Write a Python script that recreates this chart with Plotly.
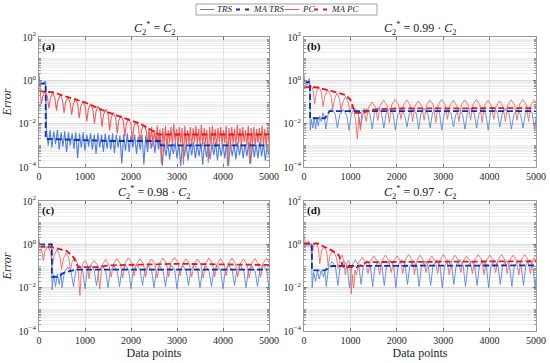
import plotly.graph_objects as go

# ---------------- DATA (errors stored as log10 values) ----------------
# Panel (a): C2* = C2
trs_a_x = [0, 25, 50, 80, 110, 135, 145]
trs_a_y = [-0.15, -0.18, -0.12, -0.15, -0.1, -0.05, -0.1]
trs_a_noise_x = list(range(160, 5001, 40))
trs_a_noise_y = [
    -2.25, -3.0, -2.3, -3.1, -2.35, -2.95, -2.3, -3.2, -2.4, -3.05,
    -2.35, -3.3, -2.4, -3.0, -2.45, -3.15, -2.4, -3.6, -2.45, -3.1,
    -2.4, -3.25, -2.5, -3.05, -2.45, -3.2, -2.5, -3.4, -2.45, -3.1,
    -2.5, -3.3, -2.45, -3.15,
    -2.5, -3.2, -2.45, -3.35, -2.5, -3.1, -2.55, -3.85, -2.5, -3.25,
    -2.45, -3.3, -2.55, -3.1, -2.5, -3.4, -2.6, -3.2, -2.5, -3.9,
    -2.55, -3.3, -2.5, -3.15, -2.6, -3.35, -2.55, -3.2, -2.6, -3.95,
    -2.9, -3.5, -2.85, -3.65, -2.95, -3.4, -2.85, -3.6, -2.9, -3.95,
    -2.85, -3.5, -2.95, -3.7, -2.9, -3.45, -2.85, -3.6, -2.95, -3.5,
    -2.9, -3.9, -2.85, -3.55, -2.95, -3.65, -2.9, -3.45, -2.85, -3.7,
    -2.9, -3.5, -2.95, -3.6, -2.85, -3.95, -2.9, -3.5, -2.95, -3.65,
    -2.85, -3.45, -2.9, -3.6, -2.95, -3.5, -2.85, -3.85, -2.9, -3.55,
    -2.95, -3.6, -2.85, -3.5, -2.9, -3.7, -2.95, -3.45]
pc_a_x = [0, 15, 30,
          50, 83, 132, 182, 215, 248, 297, 347, 380, 413, 462, 512,
          545, 578, 627, 677, 710, 743, 792, 842, 875, 908, 957, 1007,
          1040, 1073, 1122, 1172, 1205, 1238, 1287, 1337, 1370, 1403, 1452, 1502,
          1535, 1568, 1617, 1667, 1700, 1733, 1782, 1832, 1865, 1898, 1947, 1997,
          2030, 2063, 2112, 2162, 2195, 2228, 2277, 2327, 2360]
pc_a_y = [0.3, -0.2, -0.55,
          -1.1, -0.75, -0.5, -0.75, -1.3, -0.83, -0.58, -0.83, -1.4, -0.92, -0.67, -0.92,
          -1.5, -1.01, -0.76, -1.01, -1.6, -1.11, -0.86, -1.11, -1.75, -1.21, -0.96, -1.21,
          -1.9, -1.33, -1.08, -1.33, -2.0, -1.45, -1.2, -1.45, -2.15, -1.58, -1.33, -1.58,
          -2.3, -1.73, -1.48, -1.73, -2.45, -1.87, -1.62, -1.87, -2.6, -2.01, -1.76, -2.01,
          -2.75, -2.15, -1.9, -2.15, -2.85, -2.3, -2.05, -2.3, -3.0]
pc_a_noise_x = list(range(2390, 5001, 30))
pc_a_noise_y = [
    -2.2, -2.9, -2.15, -3.05, -2.3, -2.85, -2.1, -3.0, -2.25, -3.85,
    -2.2, -2.95, -2.1, -3.1, -2.3, -2.9, -2.15, -3.0, -2.0, -2.85,
    -2.25, -3.05, -2.15, -2.9, -2.2, -3.9, -2.1, -3.0, -2.3, -2.95,
    -2.15, -3.1, -2.2, -2.85, -2.1, -3.0, -2.25, -2.95, -2.05, -3.05,
    -2.2, -2.9, -2.3, -3.8, -2.15, -3.0, -2.1, -2.95, -2.25, -3.1,
    -2.2, -2.85, -2.15, -3.0, -2.3, -2.9, -2.1, -3.95, -2.2, -3.05,
    -2.15, -2.95, -2.25, -3.0, -2.05, -2.9, -2.2, -3.1, -2.15, -2.85,
    -2.3, -3.0, -2.1, -3.85, -2.2, -2.95, -2.15, -3.05, -2.25, -2.9,
    -2.2, -3.0, -2.1, -2.95, -2.25, -3.1, -2.15, -2.9]
ma_trs_a_x = [0, 145, 145, 700, 1500, 2650, 2650, 5000]
ma_trs_a_y = [-0.15, -0.15, -2.7, -2.75, -2.8, -2.8, -3.0, -3.0]
ma_pc_a_x = [0, 300, 700, 1000, 1460, 1800, 2200, 2450, 2600, 5000]
ma_pc_a_y = [-0.5, -0.55, -0.82, -1.02, -1.45, -1.7, -2.0, -2.3, -2.5, -2.5]

# Panel (b): C2* = 0.99 C2
trs_b_x = [0, 30, 60, 90, 115, 125, 135, 160, 190, 220, 250, 280, 310, 340, 370, 410, 440,
           470, 520, 595, 670, 720, 770, 845, 920, 970, 1020, 1095, 1170,
           1220, 1270, 1345, 1420, 1470, 1520, 1595, 1670, 1720, 1770, 1845, 1920,
           1970, 2020, 2095, 2170, 2220, 2270, 2345, 2420, 2470, 2520, 2595, 2670,
           2720, 2770, 2845, 2920, 2970, 3020, 3095, 3170, 3220, 3270, 3345, 3420,
           3470, 3520, 3595, 3670, 3720, 3770, 3845, 3920, 3970, 4020, 4095, 4170,
           4220, 4270, 4345, 4420, 4470, 4520, 4595, 4670, 4720, 4770, 4845, 4920,
           4970, 5000]
trs_b_y = [-0.2, -0.1, -0.2, -0.05, 0.08, -0.5, -2.3, -1.8, -2.2, -1.7, -2.25, -1.75, -2.1, -1.65, -1.9, -1.5, -1.7,
           -2.25, -1.55, -1.3, -1.55, -2.2, -1.6, -1.35, -1.6, -2.3, -1.53, -1.28, -1.53,
           -2.15, -1.55, -1.3, -1.55, -2.25, -1.5, -1.25, -1.5, -2.2, -1.55, -1.3, -1.55,
           -2.3, -1.6, -1.35, -1.6, -2.15, -1.53, -1.28, -1.53, -2.25, -1.55, -1.3, -1.55,
           -2.2, -1.5, -1.25, -1.5, -2.3, -1.55, -1.3, -1.55, -2.15, -1.6, -1.35, -1.6,
           -2.25, -1.53, -1.28, -1.53, -2.2, -1.55, -1.3, -1.55, -2.3, -1.5, -1.25, -1.5,
           -2.15, -1.55, -1.3, -1.55, -2.25, -1.6, -1.35, -1.6, -2.2, -1.53, -1.28, -1.53,
           -2.3, -1.7]
pc_b_x = [0, 20, 45, 120, 190, 230, 266, 320, 374, 410, 452, 515, 578, 620, 656, 710, 764,
          800, 838, 895, 952, 990, 1030, 1070, 1110, 1150, 1180, 1215, 1250, 1290,
          1340, 1390, 1465, 1540, 1590, 1640, 1715, 1790, 1840, 1890, 1965, 2040,
          2090, 2140, 2215, 2290, 2340, 2390, 2465, 2540, 2590, 2640, 2715, 2790,
          2840, 2890, 2965, 3040, 3090, 3140, 3215, 3290, 3340, 3390, 3465, 3540,
          3590, 3640, 3715, 3790, 3840, 3890, 3965, 4040, 4090, 4140, 4215, 4290,
          4340, 4390, 4465, 4540, 4590, 4640, 4715, 4790, 4840, 4890, 4965, 5000]
pc_b_y = [0.3, -0.1, -0.2, -0.15, -0.4, -1.1, -0.55, -0.3, -0.55, -1.2, -0.7, -0.45, -0.7,
          -1.3, -0.85, -0.6, -0.85, -1.4, -1.0, -0.75, -1.0,
          -1.5, -1.2, -1.35, -1.8, -2.7, -1.7, -2.3, -1.4, -1.3,
          -1.9, -1.25, -1.0, -1.25, -1.85, -1.17, -0.92, -1.17, -1.95, -1.13, -0.88, -1.13,
          -1.8, -1.15, -0.9, -1.15, -1.9, -1.2, -0.95, -1.2, -1.85, -1.15, -0.9, -1.15,
          -1.95, -1.13, -0.88, -1.13, -1.8, -1.17, -0.92, -1.17, -1.9, -1.15, -0.9, -1.15,
          -1.85, -1.13, -0.88, -1.13, -1.95, -1.17, -0.92, -1.17, -1.8, -1.2, -0.95, -1.2,
          -1.9, -1.15, -0.9, -1.15, -1.85, -1.13, -0.88, -1.13, -1.9, -1.15, -0.9, -1.0]
ma_trs_b_x = [0, 130, 130, 450, 550, 5000]
ma_trs_b_y = [-0.08, -0.08, -1.75, -1.75, -1.42, -1.42]
ma_pc_b_x = [0, 300, 600, 900, 1000, 1100, 1250, 1500, 2000, 5000]
ma_pc_b_y = [-0.3, -0.33, -0.5, -0.68, -0.9, -1.5, -1.5, -1.35, -1.3, -1.28]

# Panel (c): C2* = 0.98 C2
trs_c_x = [0, 40, 80, 120, 160, 200, 240, 265, 275, 285, 320, 360, 400, 440, 480,
           500, 550, 625, 700, 750, 800, 875, 950, 1000, 1050, 1125, 1200,
           1250, 1300, 1375, 1450, 1500, 1550, 1625, 1700, 1750, 1800, 1875, 1950,
           2000, 2050, 2125, 2200, 2250, 2300, 2375, 2450, 2500, 2550, 2625, 2700,
           2750, 2800, 2875, 2950, 3000, 3050, 3125, 3200, 3250, 3300, 3375, 3450,
           3500, 3550, 3625, 3700, 3750, 3800, 3875, 3950, 4000, 4050, 4125, 4200,
           4250, 4300, 4375, 4450, 4500, 4550, 4625, 4700, 4750, 4800, 4875, 4950, 5000]
trs_c_y = [-0.05, 0.0, -0.1, -0.05, -0.15, -0.1, 0.0, 0.05, -0.5, -2.1, -1.4, -1.95, -1.35, -1.85, -1.3,
           -2.0, -1.3, -1.05, -1.3, -1.95, -1.22, -0.97, -1.22, -2.05, -1.2, -0.95, -1.2,
           -1.9, -1.22, -0.97, -1.22, -2.0, -1.25, -1.0, -1.25, -1.95, -1.2, -0.95, -1.2,
           -2.05, -1.18, -0.93, -1.18, -1.9, -1.22, -0.97, -1.22, -2.0, -1.25, -1.0, -1.25,
           -1.95, -1.2, -0.95, -1.2, -2.05, -1.22, -0.97, -1.22, -1.9, -1.18, -0.93, -1.18,
           -2.0, -1.25, -1.0, -1.25, -1.95, -1.22, -0.97, -1.22, -2.05, -1.2, -0.95, -1.2,
           -1.9, -1.22, -0.97, -1.22, -2.0, -1.25, -1.0, -1.25, -1.95, -1.2, -0.95, -1.2, -2.05]
pc_c_x = [0, 20, 50, 95, 130, 190, 250, 290, 330, 390, 450, 490, 530, 590, 650, 680, 720, 780,
          840, 890, 920, 960, 1010, 1050, 1090, 1130, 1200, 1270,
          1320, 1370, 1445, 1520, 1570, 1620, 1695, 1770, 1820, 1870, 1945, 2020,
          2070, 2120, 2195, 2270, 2320, 2370, 2445, 2520, 2570, 2620, 2695, 2770,
          2820, 2870, 2945, 3020, 3070, 3120, 3195, 3270, 3320, 3370, 3445, 3520,
          3570, 3620, 3695, 3770, 3820, 3870, 3945, 4020, 4070, 4120, 4195, 4270,
          4320, 4370, 4445, 4520, 4570, 4620, 4695, 4770, 4820, 4870, 4945, 5000]
pc_c_y = [0.26, -0.05, -0.2, -0.75, -0.3, -0.1, -0.35, -1.0, -0.5, -0.25, -0.5, -1.15, -0.65, -0.4,
          -0.65, -1.2, -0.8, -0.6, -0.9, -2.35, -1.2, -0.85, -0.75, -0.95, -1.6, -0.95, -0.75, -0.95,
          -2.05, -0.95, -0.7, -0.95, -1.5, -0.9, -0.66, -0.9, -1.55, -0.88, -0.63, -0.88,
          -1.45, -0.9, -0.66, -0.9, -1.5, -0.92, -0.68, -0.92, -1.55, -0.88, -0.63, -0.88,
          -1.5, -0.85, -0.6, -0.85, -1.45, -0.9, -0.66, -0.9, -1.5, -0.92, -0.68, -0.92,
          -1.55, -0.88, -0.63, -0.88, -1.5, -0.9, -0.66, -0.9, -1.45, -0.88, -0.63, -0.88,
          -1.5, -0.92, -0.68, -0.92, -1.55, -0.9, -0.66, -0.9, -1.5, -0.88, -0.63, -0.85]
ma_trs_c_x = [0, 280, 280, 400, 550, 800, 5000]
ma_trs_c_y = [0.0, 0.0, -1.5, -1.5, -1.3, -1.17, -1.17]
ma_pc_c_x = [0, 250, 600, 750, 850, 1300, 1500, 3000, 5000]
ma_pc_c_y = [-0.12, -0.12, -0.3, -0.6, -1.05, -1.05, -0.97, -0.9, -0.95]

# Panel (d): C2* = 0.97 C2
trs_d_x = [0, 40, 80, 120, 155, 165, 175, 210, 250, 290, 330, 370, 420, 450,
           480, 530, 605, 680, 730, 780, 855, 930, 980, 1030, 1105, 1180,
           1230, 1280, 1355, 1430, 1480, 1530, 1605, 1680, 1730, 1780, 1855, 1930,
           1980, 2030, 2105, 2180, 2230, 2280, 2355, 2430, 2480, 2530, 2605, 2680,
           2730, 2780, 2855, 2930, 2980, 3030, 3105, 3180, 3230, 3280, 3355, 3430,
           3480, 3530, 3605, 3680, 3730, 3780, 3855, 3930, 3980, 4030, 4105, 4180,
           4230, 4280, 4355, 4430, 4480, 4530, 4605, 4680, 4730, 4780, 4855, 4930, 4980, 5000]
trs_d_y = [-0.1, 0.0, -0.1, 0.0, 0.05, -0.4, -2.0, -1.3, -1.7, -1.25, -1.6, -1.2, -1.5, -1.25,
           -1.95, -1.05, -0.8, -1.05, -1.9, -1.0, -0.75, -1.0, -2.0, -0.98, -0.73, -0.98,
           -1.85, -1.0, -0.75, -1.0, -1.95, -1.02, -0.77, -1.02, -1.9, -0.98, -0.73, -0.98,
           -2.0, -0.96, -0.71, -0.96, -1.85, -1.0, -0.75, -1.0, -1.95, -1.02, -0.77, -1.02,
           -1.9, -0.98, -0.73, -0.98, -2.0, -1.0, -0.75, -1.0, -1.85, -0.96, -0.71, -0.96,
           -1.95, -1.02, -0.77, -1.02, -1.9, -1.0, -0.75, -1.0, -2.0, -0.98, -0.73, -0.98,
           -1.85, -1.0, -0.75, -1.0, -1.95, -1.02, -0.77, -1.02, -1.9, -0.98, -0.73, -0.98, -2.0, -1.5]
pc_d_x = [0, 20, 50, 100, 150, 165, 200, 260, 310, 340, 380, 430, 490, 520, 560, 620, 690, 735,
          770, 820, 860, 890, 930, 970, 1000, 1020, 1040, 1070, 1100,
          1130, 1180, 1255, 1330, 1380, 1430, 1505, 1580, 1630, 1680, 1755, 1830,
          1880, 1930, 2005, 2080, 2130, 2180, 2255, 2330, 2380, 2430, 2505, 2580,
          2630, 2680, 2755, 2830, 2880, 2930, 3005, 3080, 3130, 3180, 3255, 3330,
          3380, 3430, 3505, 3580, 3630, 3680, 3755, 3830, 3880, 3930, 4005, 4080,
          4130, 4180, 4255, 4330, 4380, 4430, 4505, 4580, 4630, 4680, 4755, 4830,
          4880, 4930, 5000]
pc_d_y = [0.42, 0.1, 0.05, 0.15, -0.2, -0.7, -0.1, 0.1, -0.2, -0.9, -0.3, -0.1, -0.35, -1.0,
          -0.5, -0.3, -0.55, -1.1, -0.7, -0.5, -0.8, -1.4, -0.8, -0.75, -1.3, -2.28, -1.4, -2.0, -1.2,
          -1.4, -0.85, -0.6, -0.85, -1.35, -0.78, -0.53, -0.78, -1.4, -0.75, -0.5, -0.75,
          -1.3, -0.78, -0.53, -0.78, -1.35, -0.72, -0.47, -0.72, -1.4, -0.75, -0.5, -0.75,
          -1.3, -0.78, -0.53, -0.78, -1.35, -0.72, -0.47, -0.72, -1.4, -0.75, -0.5, -0.75,
          -1.3, -0.78, -0.53, -0.78, -1.35, -0.72, -0.47, -0.72, -1.4, -0.75, -0.5, -0.75,
          -1.3, -0.72, -0.47, -0.72, -1.35, -0.75, -0.5, -0.75, -1.4, -0.72, -0.47, -0.72,
          -1.35, -0.75, -0.5]
ma_trs_d_x = [0, 170, 170, 450, 600, 5000]
ma_trs_d_y = [0.03, 0.03, -1.2, -1.2, -1.0, -0.97]
ma_pc_d_x = [0, 300, 600, 750, 850, 1150, 1350, 5000]
ma_pc_d_y = [0.03, 0.03, -0.28, -0.5, -1.05, -1.05, -0.82, -0.78]

panel_titles = ["<i>C</i><sub>2</sub><sup>*</sup> = <i>C</i><sub>2</sub>",
                "<i>C</i><sub>2</sub><sup>*</sup> = 0.99 · <i>C</i><sub>2</sub>",
                "<i>C</i><sub>2</sub><sup>*</sup> = 0.98 · <i>C</i><sub>2</sub>",
                "<i>C</i><sub>2</sub><sup>*</sup> = 0.97 · <i>C</i><sub>2</sub>"]
panel_labels = ["(a)", "(b)", "(c)", "(d)"]
series_names = ["TRS", "MA TRS", "PC", "MA PC"]
y_tick_vals = [1e-4, 1e-2, 1e0, 1e2]
y_tick_text = ["10<sup>−4</sup>", "10<sup>−2</sup>", "10<sup>0</sup>", "10<sup>2</sup>"]
x_tick_vals = [0, 1000, 2000, 3000, 4000, 5000]

# ---------------- FIGURE ----------------
def pw(v):
    return [10 ** e for e in v]

panels = [
    (trs_a_x + trs_a_noise_x, trs_a_y + trs_a_noise_y, ma_trs_a_x, ma_trs_a_y,
     pc_a_x + pc_a_noise_x, pc_a_y + pc_a_noise_y, ma_pc_a_x, ma_pc_a_y),
    (trs_b_x, trs_b_y, ma_trs_b_x, ma_trs_b_y, pc_b_x, pc_b_y, ma_pc_b_x, ma_pc_b_y),
    (trs_c_x, trs_c_y, ma_trs_c_x, ma_trs_c_y, pc_c_x, pc_c_y, ma_pc_c_x, ma_pc_c_y),
    (trs_d_x, trs_d_y, ma_trs_d_x, ma_trs_d_y, pc_d_x, pc_d_y, ma_pc_d_x, ma_pc_d_y),
]

C_TRS = "#4f7fdc"
C_MATRS = "#0a30b0"
C_PC = "#f05e5e"
C_MAPC = "#e3161b"
FONT = "Liberation Serif"
DASH = "6px,3px"

# series styles: (colour, width, dash)
styles = [(C_TRS, 0.85, "solid"), (C_MATRS, 1.8, DASH), (C_PC, 0.85, "solid"), (C_MAPC, 1.8, DASH)]

W, H = 550, 363
xdom = [[39 / W, 269 / W], [304 / W, 536 / W]]
ydom = [[1 - 167 / H, 1 - 37 / H], [1 - 331 / H, 1 - 201 / H]]

fig = go.Figure()
for i, (tx, ty, mtx, mty, px, py, mpx, mpy) in enumerate(panels):
    xa = "x" if i == 0 else f"x{i+1}"
    ya = "y" if i == 0 else f"y{i+1}"
    thin = 1.1 if i == 0 else styles[0][1]
    for k, (sx_, sy_) in [(0, (tx, ty)), (2, (px, py)), (1, (mtx, mty)), (3, (mpx, mpy))]:
        col, wid, dsh = styles[k]
        if k in (0, 2):
            wid = thin
        fig.add_trace(go.Scatter(x=sx_, y=pw(sy_), xaxis=xa, yaxis=ya, mode="lines",
                                 line=dict(color=col, width=wid, dash=dsh),
                                 name=series_names[k], showlegend=False, legendgroup=series_names[k]))

minor_vals = [m * 10 ** e for e in range(-4, 2) for m in range(2, 10)] + [1e-3, 1e-1, 1e1]
layout = dict(
    width=W, height=H, margin=dict(l=0, r=0, t=0, b=0, autoexpand=False),
    paper_bgcolor="white", plot_bgcolor="white",
    font=dict(family=FONT, size=10, color="#262626"),
    showlegend=False,
)
for i in range(4):
    r, c = divmod(i, 2)
    sx = "" if i == 0 else str(i + 1)
    xa_def = dict(
        domain=xdom[c], anchor="y" + sx, range=[0, 5000],
        tickvals=x_tick_vals, ticks="inside", ticklen=3, tickcolor="#777",
        showline=True, mirror="ticks", linecolor="#9a9a9a", linewidth=1,
        showgrid=True, gridcolor="#e1e1e1", gridwidth=1, zeroline=False,
        tickfont=dict(family=FONT, size=10, color="#262626"),
    )
    if r == 1:
        xa_def["title"] = dict(text="Data points", font=dict(family=FONT, size=12), standoff=2)
    ya_def = dict(
        domain=ydom[r], anchor="x" + sx, type="log", range=[-4, 2],
        tickvals=y_tick_vals, ticktext=y_tick_text, ticks="inside", ticklen=3, tickcolor="#777",
        showline=True, mirror="ticks", linecolor="#9a9a9a", linewidth=1,
        showgrid=True, gridcolor="#dcdcdc", gridwidth=1, zeroline=False,
        minor=dict(tickvals=minor_vals, showgrid=True, gridcolor="#eeeeee", gridwidth=1,
                   ticks="inside", ticklen=2, tickcolor="#999"),
        tickfont=dict(family=FONT, size=10, color="#262626"),
    )
    if c == 0:
        ya_def["title"] = dict(text="<i>Error</i>", font=dict(family=FONT, size=12), standoff=4)
    layout["xaxis" + sx] = xa_def
    layout["yaxis" + sx] = ya_def

annotations = []
shapes = []
for i in range(4):
    r, c = divmod(i, 2)
    sx = "" if i == 0 else str(i + 1)
    annotations.append(dict(text=panel_titles[i], xref=f"x{sx} domain", yref=f"y{sx} domain",
                            x=0.5, y=1.0, xanchor="center", yanchor="bottom", yshift=-2,
                            showarrow=False, font=dict(family=FONT, size=12, color="#1a1a1a")))
    annotations.append(dict(text=f"<b>{panel_labels[i]}</b>", xref=f"x{sx} domain", yref=f"y{sx} domain",
                            x=0.0, y=1.0, xanchor="left", yanchor="top", xshift=1, yshift=-1,
                            showarrow=False, font=dict(family=FONT, size=11, color="#111")))

# compact legend box at the top (same styles as the traces)
leg_box = (196, 377, 4, 15)          # left, right, top, bottom in px
leg_items = [(200, 214), (236, 250), (285, 299), (314, 328)]   # sample line start/end in px
leg_y = 1 - 9.5 / H
shapes.append(dict(type="rect", xref="paper", yref="paper",
                   x0=leg_box[0] / W, x1=leg_box[1] / W, y0=1 - leg_box[3] / H, y1=1 - leg_box[2] / H,
                   line=dict(color="#a0a0a0", width=1), fillcolor="white", layer="above"))
for k, (a0, a1) in enumerate(leg_items):
    col, wid, dsh = styles[k]
    shapes.append(dict(type="line", xref="paper", yref="paper", x0=a0 / W, x1=a1 / W, y0=leg_y, y1=leg_y,
                       line=dict(color=col, width=wid if wid > 1 else 1, dash="4px,5px" if dsh != "solid" else "solid"),
                       layer="above"))
    annotations.append(dict(text=f"<i>{series_names[k]}</i>", xref="paper", yref="paper",
                            x=(a1 + 1) / W, y=leg_y, xanchor="left", yanchor="middle",
                            showarrow=False, font=dict(family=FONT, size=9, color="#262626")))
layout["annotations"] = annotations
layout["shapes"] = shapes

fig.update_layout(**layout)
fig.write_html("out.html", config={"displayModeBar": False},
               post_script="document.body.style.margin='0';document.body.style.overflow='hidden';")
